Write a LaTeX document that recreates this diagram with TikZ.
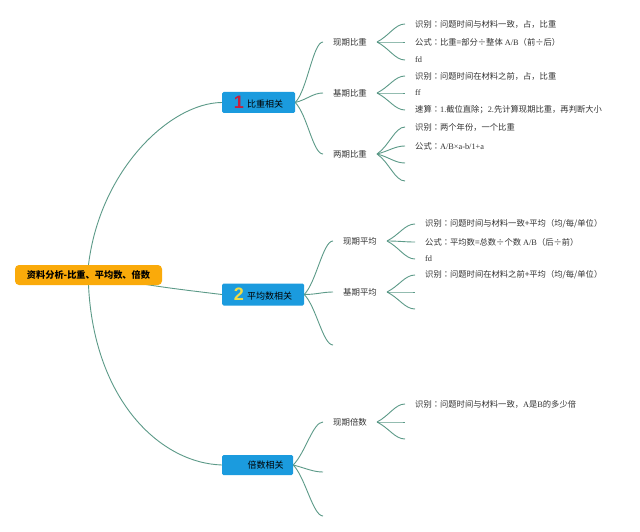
\documentclass[tikz,border=0pt]{standalone}
\usepackage{fontspec}
\setmainfont{Liberation Serif}
\newfontfamily\cjk{Noto Sans CJK SC}
\newfontfamily\cjktc{Noto Sans CJK TC}
\newfontfamily\iconfont{Liberation Sans}
\usetikzlibrary{backgrounds}
\definecolor{lineC}{RGB}{92,154,136}
\definecolor{blueC}{RGB}{27,155,222}
\definecolor{orangeC}{RGB}{250,170,10}
\definecolor{redI}{RGB}{200,30,60}
\definecolor{yelI}{RGB}{240,220,70}
\definecolor{txt}{RGB}{51,51,51}
\newcommand\C[1]{{\cjk #1}}
\newcommand\cl{{\cjktc ：}}
\newcommand\brc[3]{\draw[conn] (#1) .. controls +(12,#3) and +(-10,0) .. (#2);}
\begin{document}
\begin{tikzpicture}[x=1pt,y=-1pt,
  conn/.style={draw=lineC, line width=0.9pt},
  rootbox/.style={fill=orangeC, rounded corners=4pt, minimum width=147pt, minimum height=20pt, inner sep=0pt, text=black, font=\cjk\bfseries\fontsize{9.2}{11}\selectfont},
  lvlbox/.style={fill=blueC, rounded corners=1.5pt, inner sep=0pt, text=black, font=\cjk\fontsize{9}{11}\selectfont},
  subnode/.style={anchor=west, inner xsep=10pt, inner ysep=0pt, text=txt, font=\cjk\fontsize{8.4}{10}\selectfont},
  leaf/.style={anchor=west, inner xsep=10pt, inner ysep=0pt, text=txt, font=\fontsize{8.3}{10}\selectfont}]
\useasboundingbox (0,0) rectangle (640,532);

% root and level 1
\node[rootbox] (root) at (88.5,275) {资料分析-比重、平均数、倍数};
\node[lvlbox, minimum width=73pt, minimum height=21pt] (b1) at (258.5,102.5)
  {\raisebox{-1pt}{\iconfont\bfseries\fontsize{18}{18}\selectfont\color{redI}1}\hspace{3pt}比重相关};
\node[lvlbox, minimum width=82pt, minimum height=22pt] (b2) at (263,294.5)
  {\raisebox{-1pt}{\iconfont\bfseries\fontsize{18}{18}\selectfont\color{yelI}2}\hspace{3pt}平均数相关};
\node[lvlbox, minimum width=71pt, minimum height=20pt] (b3) at (257.5,465)
  {\hspace{16pt}倍数相关};

% level 2
\node[subnode] (s11) at (323,42) {现期比重};
\node[subnode] (s12) at (323,93) {基期比重};
\node[subnode] (s13) at (323,154) {两期比重};
\node[subnode] (s21) at (333,241) {现期平均};
\node[subnode] (s22) at (333,292) {基期平均};
\coordinate (e23) at (333,345);
\node[subnode] (s31) at (323,422) {现期倍数};
\coordinate (e32) at (323,472);
\coordinate (e33) at (323,516);

% leaves
\node[leaf] (l111) at (405,24) {\C{识别}\cl\C{问题时间与材料一致，占，比重}};
\node[leaf] (l112) at (405,42) {\C{公式}\cl\C{比重=部分÷整体} A/B\C{（前÷后）}};
\node[leaf] (l113) at (405,60) {fd};
\node[leaf] (l121) at (405,76) {\C{识别}\cl\C{问题时间在材料之前，占，比重}};
\node[leaf] (l122) at (405,93) {ff};
\node[leaf] (l123) at (405,110) {\C{速算}\cl 1.\C{截位直除；}2.\C{先计算现期比重，再判断大小}};
\node[leaf] (l131) at (405,127) {\C{识别}\cl\C{两个年份，一个比重}};
\node[leaf] (l132) at (405,146) {\C{公式}\cl A/B×a-b/1+a};
\coordinate (e133) at (405,163);
\coordinate (e134) at (405,181);
\node[leaf] (l211) at (415,224) {\C{识别}\cl\C{问题时间与材料一致+平均（均/每/单位）}};
\node[leaf] (l212) at (415,242) {\C{公式}\cl\C{平均数=总数÷个数} A/B\C{（后÷前）}};
\node[leaf] (l213) at (415,259) {fd};
\node[leaf] (l221) at (415,275) {\C{识别}\cl\C{问题时间在材料之前+平均（均/每/单位）}};
\coordinate (e222) at (415,292);
\coordinate (e223) at (415,309);
\node[leaf] (l311) at (405,404) {\C{识别}\cl\C{问题时间与材料一致，}A\C{是}B\C{的多少倍}};
\coordinate (e312) at (405,422);
\coordinate (e313) at (405,439);

\begin{pgfonlayer}{background}
  \fill[white] (0,0) rectangle (640,532);
  % root connectors
  \draw[conn] (root.north) .. controls (100,170) and (170,103) .. (b1.west);
  \draw[conn] (root.center) .. controls (160,287) .. (b2.west);
  \draw[conn] (root.south) .. controls (94,400) and (160,463) .. (b3.west);
  % level 1 -> 2
  \brc{b1.east}{s11.west}{-12}
  \brc{b1.east}{s12.west}{-3}
  \brc{b1.east}{s13.west}{12}
  \brc{b2.east}{s21.west}{-12}
  \brc{b2.east}{s22.west}{0}
  \brc{b2.east}{e23}{12}
  \brc{b3.east}{s31.west}{-12}
  \brc{b3.east}{e32}{3}
  \brc{b3.east}{e33}{12}
  % level 2 -> 3
  \brc{s11.east}{l111.west}{-6}
  \brc{s11.east}{l112.west}{0}
  \brc{s11.east}{l113.west}{6}
  \brc{s12.east}{l121.west}{-6}
  \brc{s12.east}{l122.west}{0}
  \brc{s12.east}{l123.west}{6}
  \brc{s13.east}{l131.west}{-8}
  \brc{s13.east}{l132.west}{-3}
  \brc{s13.east}{e133}{3}
  \brc{s13.east}{e134}{8}
  \brc{s21.east}{l211.west}{-6}
  \brc{s21.east}{l212.west}{0}
  \brc{s21.east}{l213.west}{6}
  \brc{s22.east}{l221.west}{-6}
  \brc{s22.east}{e222}{0}
  \brc{s22.east}{e223}{6}
  \brc{s31.east}{l311.west}{-6}
  \brc{s31.east}{e312}{0}
  \brc{s31.east}{e313}{6}
\end{pgfonlayer}
\end{tikzpicture}
\end{document}
